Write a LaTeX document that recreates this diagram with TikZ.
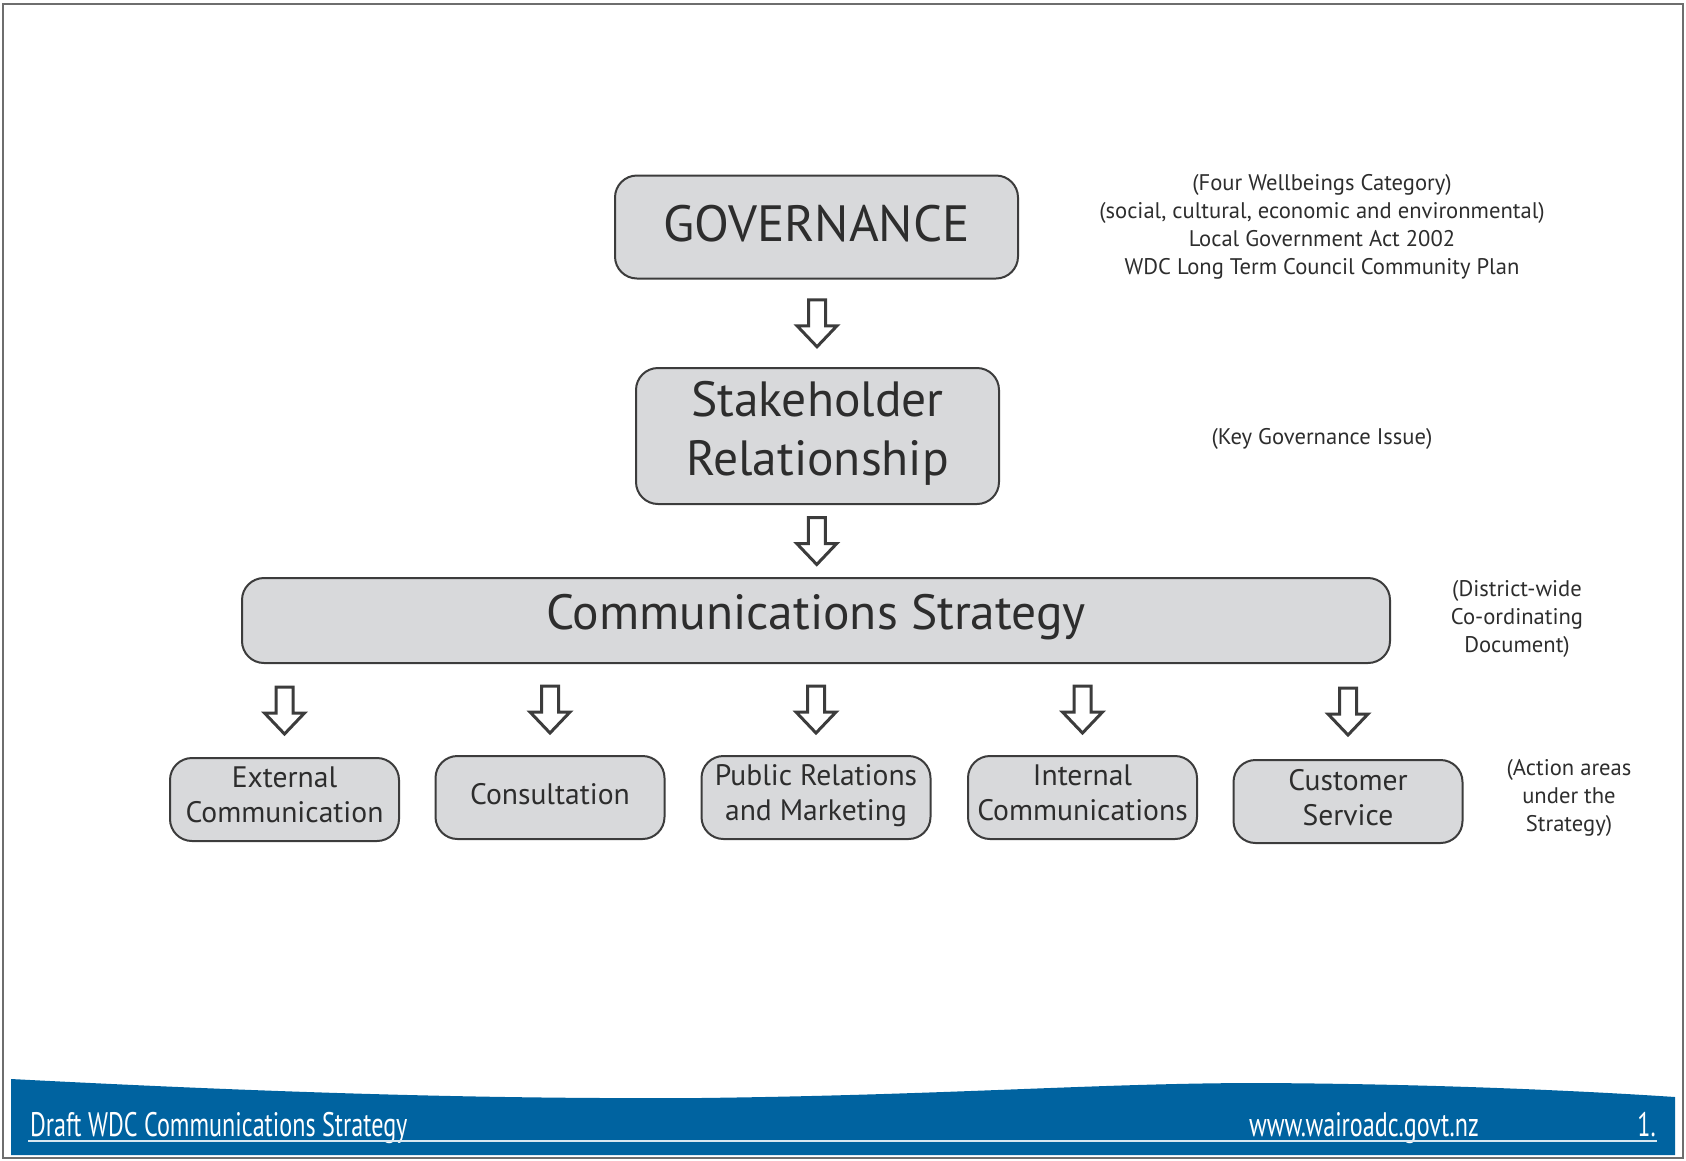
\documentclass[tikz,border=0pt]{standalone}
\usepackage{fontspec}
\setmainfont{PT Sans}
\newfontfamily\footfont{PT Sans}[FakeStretch=0.71]
\usetikzlibrary{calc}
\definecolor{boxfill}{RGB}{216,217,219}
\definecolor{boxline}{RGB}{60,60,60}
\definecolor{txt}{RGB}{45,45,45}
\definecolor{bandblue}{RGB}{0,99,160}
\definecolor{framegray}{RGB}{110,110,110}
\tikzset{
  tbox/.style={draw=boxline, line width=2pt, fill=boxfill, rounded corners=22pt, inner sep=0pt},
  btext/.style={text=txt, align=center, inner sep=0pt},
  bigtext/.style={btext, font=\fontsize{51}{56}\selectfont},
  midtext/.style={btext, font=\fontsize{49.5}{59}\selectfont},
  smalltext/.style={btext, font=\fontsize{29.6}{35}\selectfont},
  note/.style={text=txt, align=center, inner sep=0pt, font=\fontsize{22.6}{28}\selectfont},
  foot/.style={text=white, inner sep=0pt, font=\footfont\fontsize{34}{36}\selectfont},
  downarrow/.pic={
    \draw[draw=boxline, fill=white, line width=3pt, line join=miter]
      (-8.5,-23.5) -- (8.5,-23.5) -- (8.5,2.5) -- (20,2.5) -- (0,23.5)
      -- (-20,2.5) -- (-8.5,2.5) -- cycle;
  }
}
\begin{document}
\begin{tikzpicture}[x=1pt, y=-1pt]
\useasboundingbox (0,0) rectangle (1686,1160);
% page frame
\draw[framegray, line width=2.5pt] (3,4) rectangle (1683,1158);
% footer band
\fill[bandblue] (11,1079) .. controls (300,1094) and (500,1099) .. (700,1098)
  .. controls (950,1095) and (1100,1083) .. (1260,1083)
  .. controls (1450,1084) and (1600,1092) .. (1675,1097)
  -- (1675,1155) -- (11,1155) -- cycle;
\node[foot, anchor=base west] (ft1) at (30,1136) {Draft WDC Communications Strategy};
\node[foot, anchor=base] (ft2) at (1364,1136) {www.wairoadc.govt.nz};
\node[foot, anchor=base east] (ft3) at (1656,1136) {1.};
\coordinate (ulA) at (28,1141);
\coordinate (ulB) at (1657,1141);
\draw[white!85!bandblue, line width=1.5pt] (ulA) -- (ulB);

% main boxes
\node[tbox, minimum width=403pt, minimum height=103pt] (gov) at (816.5,227) {};
\node[bigtext] (gov-t) at ([yshift=3pt]gov.center) {GOVERNANCE};
\node[tbox, minimum width=363pt, minimum height=136pt] (stake) at (817.5,436) {};
\node[midtext] (stake-t) at ([yshift=3pt]stake.center) {Stakeholder\\Relationship};
\node[tbox, minimum width=1148pt, minimum height=85pt] (comm) at (816,620.5) {};
\node[midtext] (comm-t) at ([yshift=3pt]comm.center) {Communications Strategy};

\foreach \n/\x/\y/\s/\t in {ext/284.5/799.5/5/{External\\Communication},
                         cons/550/797.5/3/{Consultation},
                         pr/816/797.5/2/{Public Relations\\and Marketing},
                         intc/1082.5/797.5/5/{Internal\\Communications},
                         cust/1348/801.5/4/{Customer\\Service}}{
  \node[tbox, minimum width=229pt, minimum height=83pt] (\n) at (\x,\y) {};
  \node[smalltext] (\n-t) at ([yshift=\s pt]\n.center) {\t};
}

% block arrows
\pic at ($(gov.south)!0.5!(stake.north)$) {downarrow};
\pic at ($(stake.south)!0.5!(comm.north)$) {downarrow};
\foreach \b in {ext,cons,pr,intc,cust}{
  \pic at ($(\b.north |- comm.south)!0.5!(\b.north)$) {downarrow};
}

% notes
\node[note] (n1) at (1322,227) {(Four Wellbeings Category)\\(social, cultural, economic and environmental)\\Local Government Act 2002\\WDC Long Term Council Community Plan};
\node[note] (n2) at (1322,439) {(Key Governance Issue)};
\node[note] (n3) at (1517,619) {(District-wide\\Co-ordinating\\Document)};
\node[note] (n4) at (1569,798) {(Action areas\\under the\\Strategy)};
\end{tikzpicture}
\end{document}
